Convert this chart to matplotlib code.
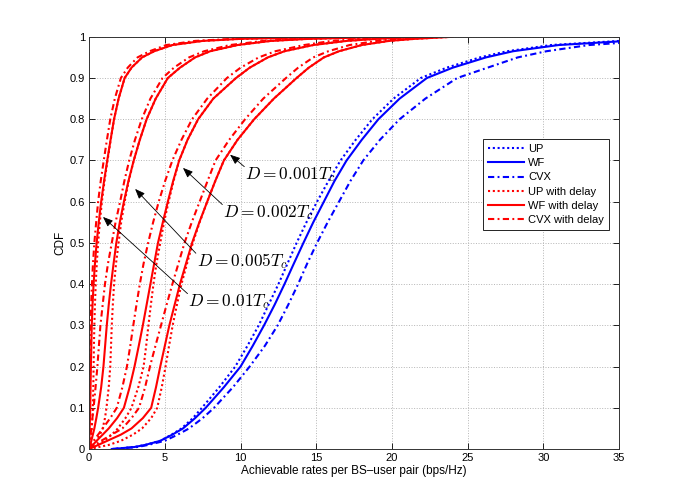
import matplotlib
matplotlib.use("Agg")
import matplotlib.pyplot as plt

plt.rcParams['font.family'] = ['Liberation Sans', 'DejaVu Sans']
plt.rcParams['mathtext.fontset'] = 'cm'

# ---- data (x values read at given CDF levels) ----
blue_levels = [0, .005, .01, .02, .035, .05, .075, .1, .15, .2, .25, .3, .35, .4, .45, .5,
               .55, .6, .65, .7, .75, .8, .85, .9, .925, .95, .965, .98, .99]
up_x = [1.5, 3.0, 3.7, 4.7, 5.45, 6.1, 6.85, 7.45, 8.6, 9.65, 10.45, 11.2, 11.85, 12.5, 13.1, 13.7,
        14.35, 15.05, 15.8, 16.6, 17.6, 18.7, 20.1, 21.9, 23.6, 25.8, 27.6, 30.5, 35.0]
wf_x = [1.5, 3.0, 3.7, 4.7, 5.5, 6.2, 7.0, 7.7, 8.9, 10.0, 10.8, 11.55, 12.25, 12.9, 13.52, 14.15,
        14.8, 15.5, 16.2, 17.0, 18.0, 19.1, 20.5, 22.3, 24.0, 26.2, 28.0, 31.0, 35.5]
cvx_x = [1.5, 3.2, 3.9, 5.0, 5.85, 6.6, 7.5, 8.25, 9.5, 10.6, 11.6, 12.45, 13.15, 13.8, 14.4, 15.05,
         15.75, 16.5, 17.25, 18.1, 19.2, 20.5, 22.2, 24.3, 26.3, 28.3, 30.2, 33.0, 37.0]

red_levels = [0, .01, .02, .035, .05, .075, .1, .15, .2, .25, .3, .35, .4, .45, .5, .55, .6,
              .65, .7, .75, .8, .85, .9, .925, .95, .965, .98, .99, .995, 1]
# D = 0.01 Tc
up_d01 = [0, .05, .1, .15, .18, .22, .25, .28, .3, .32, .35, .39, .44, .51, .6, .71, .85,
          1.02, 1.22, 1.43, 1.65, 1.95, 2.35, 2.8, 3.5, 4.3, 5.5, 7.5, 10, 16]
wf_d01 = [0, .01, .02, .03, .04, .06, .08, .1, .12, .15, .18, .23, .3, .39, .5, .64, .8,
          .99, 1.2, 1.42, 1.65, 1.95, 2.35, 2.8, 3.5, 4.3, 5.5, 7.5, 10, 16]
cvx_d01 = [0, .005, .01, .015, .02, .03, .04, .055, .07, .09, .11, .14, .19, .26, .35, .47, .6,
           .77, .97, 1.18, 1.4, 1.7, 2.1, 2.55, 3.2, 4.0, 5.1, 7.0, 9.5, 15]
# D = 0.005 Tc
up_d005 = [0, .25, .5, .72, .9, 1.05, 1.15, 1.3, 1.4, 1.45, 1.5, 1.57, 1.65, 1.78, 1.95, 2.12, 2.35,
           2.62, 2.95, 3.35, 3.8, 4.4, 5.2, 6.0, 7.0, 8.0, 9.8, 12, 14.5, 20]
wf_d005 = [0, .08, .15, .25, .35, .48, .6, .8, .95, 1.06, 1.17, 1.3, 1.45, 1.62, 1.8, 2.03, 2.3,
           2.6, 2.95, 3.35, 3.8, 4.4, 5.2, 6.0, 7.0, 8.0, 9.8, 12, 14.5, 20]
cvx_d005 = [0, .02, .05, .1, .15, .22, .3, .43, .55, .65, .75, .9, 1.05, 1.25, 1.5, 1.75, 2.05,
            2.33, 2.65, 3.03, 3.48, 4.05, 4.85, 5.6, 6.6, 7.6, 9.3, 11.5, 14, 19]
# D = 0.002 Tc
up_d002 = [0, .6, 1.0, 1.5, 1.9, 2.4, 2.8, 3.25, 3.6, 3.77, 3.92, 4.08, 4.25, 4.45, 4.7, 4.95, 5.25,
           5.58, 5.95, 6.5, 7.2, 8.2, 9.7, 10.6, 11.8, 12.9, 14.8, 17, 19, 22]
wf_d002 = [0, .25, .5, .9, 1.3, 1.85, 2.3, 2.68, 3.0, 3.28, 3.55, 3.8, 4.05, 4.3, 4.55, 4.87, 5.2,
           5.55, 5.95, 6.5, 7.2, 8.2, 9.7, 10.6, 11.8, 12.9, 14.8, 17, 19, 22]
cvx_d002 = [0, .15, .3, .6, .9, 1.4, 1.83, 2.2, 2.5, 2.72, 2.92, 3.13, 3.35, 3.6, 3.9, 4.23, 4.6,
            5.02, 5.5, 6.1, 6.8, 7.8, 9.1, 10.0, 11.2, 12.3, 14.2, 16, 18, 21]
# D = 0.001 Tc
up_d001 = [0, 1.3, 2.1, 2.9, 3.5, 4.1, 4.5, 4.8, 5.05, 5.28, 5.52, 5.8, 6.1, 6.47, 6.85, 7.3, 7.8,
           8.33, 8.9, 9.8, 10.9, 12.2, 13.7, 14.5, 15.5, 16.5, 18, 19.8, 21.5, 24]
wf_d001 = [0, .6, 1.2, 2.1, 2.8, 3.55, 4.1, 4.42, 4.7, 5.0, 5.3, 5.65, 6.0, 6.4, 6.8, 7.28, 7.8,
           8.33, 8.9, 9.8, 10.9, 12.2, 13.7, 14.5, 15.5, 16.5, 18, 19.8, 21.5, 24]
cvx_d001 = [0, .4, .8, 1.5, 2.2, 2.8, 3.3, 3.7, 4.02, 4.38, 4.75, 5.12, 5.5, 5.9, 6.3, 6.78, 7.3,
            7.82, 8.35, 9.25, 10.3, 11.5, 13.0, 13.8, 14.8, 15.8, 17.2, 19, 20.5, 23]

legend_labels = ['UP', 'WF', 'CVX', 'UP with delay', 'WF with delay', 'CVX with delay']
annot_labels = [r'$D=0.001T_c$', r'$D=0.002T_c$', r'$D=0.005T_c$', r'$D=0.01T_c$']
annot_tips = [(9.31, 0.714), (6.2, 0.682), (3.04, 0.631), (0.92, 0.563)]
annot_text = [(10.3, 0.665), (8.85, 0.573), (7.1, 0.455), (6.55, 0.357)]

x_ticks = [0, 5, 10, 15, 20, 25, 30, 35]
y_ticks = [0, 0.1, 0.2, 0.3, 0.4, 0.5, 0.6, 0.7, 0.8, 0.9, 1]
y_tick_labels = ['0', '0.1', '0.2', '0.3', '0.4', '0.5', '0.6', '0.7', '0.8', '0.9', '1']

# ---- plot ----
fig = plt.figure(figsize=(6.85, 5.04), dpi=100)
ax = fig.add_axes([0.130, 0.109, 0.774, 0.818])

dotted = (0, (1, 1.3))
dashdot = (0, (3, 1.6, 0.9, 1.6))
lw = 1.5
blue = (0, 0, 1)
red = (1, 0, 0)

ax.plot(up_x, blue_levels, color=blue, ls=dotted, lw=lw, label=legend_labels[0])
ax.plot(wf_x, blue_levels, color=blue, ls='-', lw=lw, label=legend_labels[1])
ax.plot(cvx_x, blue_levels, color=blue, ls=dashdot, lw=lw, label=legend_labels[2])

groups = [(up_d01, wf_d01, cvx_d01), (up_d005, wf_d005, cvx_d005),
          (up_d002, wf_d002, cvx_d002), (up_d001, wf_d001, cvx_d001)]
for i, (u, w, c) in enumerate(groups):
    ax.plot(u, red_levels, color=red, ls=dotted, lw=lw,
            label=legend_labels[3] if i == 0 else None)
    ax.plot(w, red_levels, color=red, ls='-', lw=lw,
            label=legend_labels[4] if i == 0 else None)
    ax.plot(c, red_levels, color=red, ls=dashdot, lw=lw,
            label=legend_labels[5] if i == 0 else None)

for lab, tip, txt in zip(annot_labels, annot_tips, annot_text):
    ax.annotate('', xy=tip, xytext=(txt[0] - 0.05, txt[1] + 0.02),
                arrowprops=dict(arrowstyle='-|>,head_length=0.5,head_width=0.2',
                                color='black', lw=0.6,
                                mutation_scale=12, shrinkA=0, shrinkB=0))
    ax.text(txt[0], txt[1], lab, fontsize=12.5, ha='left', va='center')

ax.set_xlim(0, 35)
ax.set_ylim(0, 1)
ax.set_xticks(x_ticks)
ax.set_yticks(y_ticks)
ax.set_yticklabels(y_tick_labels)
ax.tick_params(direction='in', top=True, right=True, labelsize=8, length=4, width=0.6, pad=3)
ax.grid(True, linestyle=':', color='#b5b5b5', linewidth=0.7)
for s in ax.spines.values():
    s.set_linewidth(0.7)
    s.set_color('#333333')

ax.set_xlabel('Achievable rates per BS\u2013user pair (bps/Hz)', fontsize=8.5, labelpad=1)
ax.set_ylabel('CDF', fontsize=8.5, labelpad=2)

leg = ax.legend(loc='upper left', bbox_to_anchor=(0.743, 0.752), fontsize=8,
                handlelength=3.2, labelspacing=0.38, borderpad=0.45,
                handletextpad=0.4, borderaxespad=0, fancybox=False, framealpha=1,
                edgecolor='black')
leg.get_frame().set_linewidth(0.6)

fig.savefig('out.png', dpi=100)
